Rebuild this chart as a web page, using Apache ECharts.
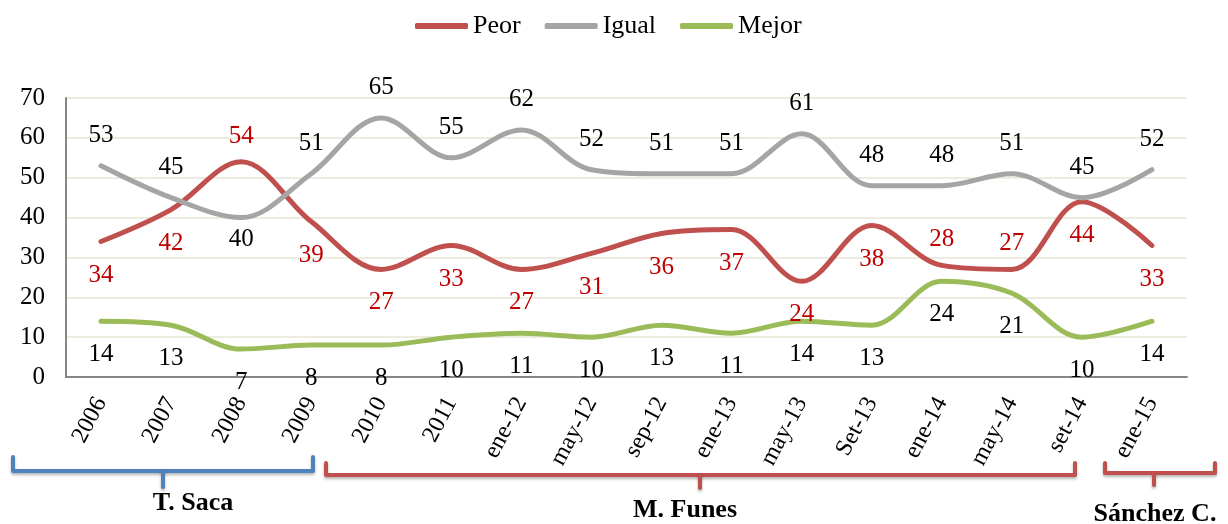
<!DOCTYPE html>
<html>
<head>
<meta charset="UTF-8">
<title></title>
<style type="text/css">
	* {
		margin: 0;
		padding: 0;
	}
	#chart {
		width: 1228px;
		height: 524px;
		background: #fff;
	}
</style>
</head>
<body>
<div id="chart"></div>
<script src="https://cdn.jsdelivr.net/npm/echarts@6/dist/echarts.min.js"></script>
<script type="text/javascript">
	var categories = ['2006', '2007', '2008', '2009', '2010', '2011', 'ene-12', 'may-12', 'sep-12',
		'ene-13', 'may-13', 'Set-13', 'ene-14', 'may-14', 'set-14', 'ene-15'];
	var peor = [34, 42, 54, 39, 27, 33, 27, 31, 36, 37, 24, 38, 28, 27, 44, 33];
	var igual = [53, 45, 40, 51, 65, 55, 62, 52, 51, 51, 61, 48, 48, 51, 45, 52];
	var mejor = [14, 13, 7, 8, 8, 10, 11, 10, 13, 11, 14, 13, 24, 21, 10, 14];
	var yTicks = [0, 10, 20, 30, 40, 50, 60, 70];
	var periods = ['T. Saca', 'M. Funes', 'Sánchez C.'];

	var serif = "'Liberation Serif', 'Times New Roman', serif";
	var chart = echarts.init(document.getElementById('chart'));

	// la mayoria de etiquetas siguen la posicion de la serie, algunas se invierten
	function buildData(values, flipped, flipPos, flipDist) {
		return values.map(function(v, i) {
			if(flipped.indexOf(i) >= 0) {
				return { value: v, label: { position: flipPos, distance: flipDist } };
			}
			return v;
		});
	}

	function lineSerie(name, values, color, labelColor, pos, dist, flipped, flipPos, flipDist) {
		return {
			name: name,
			type: 'line',
			smooth: 0.35,
			symbol: 'circle',
			symbolSize: 2,
			lineStyle: { color: color, width: 5, cap: 'round' },
			itemStyle: { color: color, borderWidth: 0 },
			label: {
				show: true,
				position: pos,
				distance: dist,
				color: labelColor,
				fontFamily: serif,
				fontSize: 25
			},
			data: buildData(values, flipped, flipPos, flipDist)
		};
	}

	function bracket(pts, tick, color) {
		var style = {
			stroke: color,
			lineWidth: 4,
			lineJoin: 'round',
			lineCap: 'round',
			shadowBlur: 3,
			shadowOffsetY: 2,
			shadowColor: 'rgba(0,0,0,0.3)'
		};
		return [
			{ type: 'polyline', shape: { points: pts }, style: style },
			{ type: 'polyline', shape: { points: tick }, style: style }
		];
	}

	function periodText(text, x, y) {
		return {
			type: 'text',
			x: x,
			y: y,
			style: {
				text: text,
				fill: '#000',
				font: 'bold 26px ' + serif,
				align: 'center',
				verticalAlign: 'middle'
			}
		};
	}

	var graphics = []
		.concat(bracket([[13, 457], [13, 471], [313, 471], [313, 457]], [[163, 471], [163, 487]], '#4F81BD'))
		.concat(bracket([[326, 463], [326, 475], [1075, 475], [1075, 463]], [[700, 475], [700, 488]], '#C0504D'))
		.concat(bracket([[1105, 463], [1105, 473], [1215, 473], [1215, 463]], [[1154, 473], [1154, 485]], '#C0504D'));
	graphics.push(periodText(periods[0], 193, 503));
	graphics.push(periodText(periods[1], 685, 510));
	graphics.push(periodText(periods[2], 1155, 514));

	chart.setOption({
		animation: false,
		backgroundColor: '#fff',
		legend: {
			top: 8,
			left: 410,
			icon: 'roundRect',
			itemWidth: 53,
			itemHeight: 6,
			itemGap: 24,
			textStyle: { fontFamily: serif, fontSize: 26, color: '#000' },
			data: ['Peor', 'Igual', 'Mejor']
		},
		grid: {
			left: 66,
			right: 41,
			top: 98,
			bottom: 147,
			containLabel: false
		},
		xAxis: {
			type: 'category',
			data: categories,
			boundaryGap: true,
			axisLine: { show: true, lineStyle: { color: '#868686', width: 2 } },
			axisTick: { show: false },
			axisLabel: {
				rotate: 62,
				margin: 22,
				interval: 0,
				color: '#000',
				fontFamily: serif,
				fontSize: 24
			}
		},
		yAxis: {
			type: 'value',
			min: yTicks[0],
			max: yTicks[yTicks.length - 1],
			interval: 10,
			axisLine: { show: true, lineStyle: { color: '#868686', width: 2 } },
			axisTick: { show: false },
			axisLabel: {
				margin: 21,
				color: '#000',
				fontFamily: serif,
				fontSize: 25
			},
			splitLine: { lineStyle: { color: '#EEECE1', width: 2 } }
		},
		series: [
			lineSerie('Peor', peor, '#C0504D', '#C00000', 'bottom', 20, [2, 12, 13], 'top', 12),
			lineSerie('Igual', igual, '#A5A5A5', '#000', 'top', 17, [2], 'bottom', 8),
			lineSerie('Mejor', mejor, '#9BBB59', '#000', 'bottom', 20, [], 'top', 12)
		],
		graphic: graphics
	});
</script>
</body>
</html>
